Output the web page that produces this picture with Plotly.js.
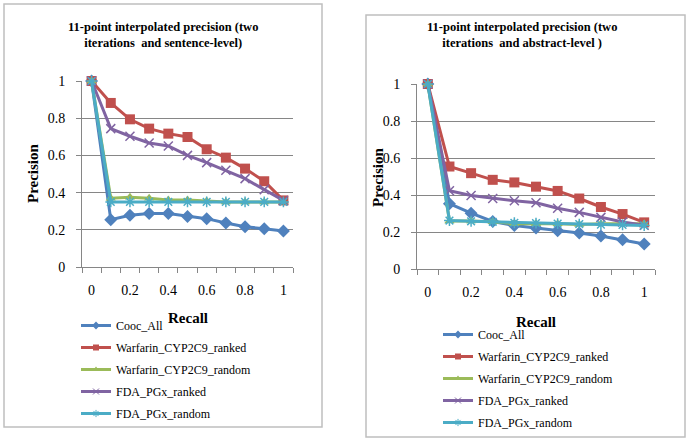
<!DOCTYPE html>
<html>
<head>
<meta charset="utf-8">
<script src="https://cdn.plot.ly/plotly-3.0.1.min.js"></script>
<style>html,body{margin:0;padding:0;background:#fff;}#chart{width:689px;height:442px;}</style>
</head>
<body>
<div id="chart"></div>
<script>
const recall = [0, 0.1, 0.2, 0.3, 0.4, 0.5, 0.6, 0.7, 0.8, 0.9, 1];
const seriesNames = ["Cooc_All", "Warfarin_CYP2C9_ranked", "Warfarin_CYP2C9_random", "FDA_PGx_ranked", "FDA_PGx_random"];

// Sentence-level (left chart)
const sentCooc       = [1, 0.254, 0.278, 0.287, 0.288, 0.272, 0.260, 0.237, 0.216, 0.206, 0.194];
const sentWarfRanked = [1, 0.882, 0.794, 0.744, 0.717, 0.699, 0.633, 0.588, 0.529, 0.461, 0.358];
const sentWarfRandom = [1, 0.370, 0.375, 0.370, 0.360, 0.360, 0.355, 0.350, 0.350, 0.350, 0.350];
const sentFdaRanked  = [1, 0.744, 0.703, 0.667, 0.651, 0.600, 0.561, 0.520, 0.475, 0.416, 0.358];
const sentFdaRandom  = [1, 0.350, 0.350, 0.350, 0.350, 0.350, 0.350, 0.350, 0.350, 0.350, 0.350];

// Abstract-level (right chart)
const absCooc        = [1, 0.353, 0.302, 0.257, 0.235, 0.222, 0.207, 0.195, 0.178, 0.158, 0.135];
const absWarfRanked  = [1, 0.554, 0.518, 0.482, 0.468, 0.445, 0.422, 0.381, 0.335, 0.297, 0.252];
const absWarfRandom  = [1, 0.260, 0.260, 0.255, 0.245, 0.245, 0.245, 0.240, 0.245, 0.245, 0.245];
const absFdaRanked   = [1, 0.423, 0.397, 0.381, 0.369, 0.358, 0.328, 0.306, 0.279, 0.254, 0.236];
const absFdaRandom   = [1, 0.262, 0.258, 0.255, 0.250, 0.248, 0.245, 0.243, 0.240, 0.238, 0.235];

const xTickVals = [0, 0.2, 0.4, 0.6, 0.8, 1];
const xTickText = ["0", "0.2", "0.4", "0.6", "0.8", "1"];
const xTickMarks = [-0.05, 0.05, 0.15, 0.25, 0.35, 0.45, 0.55, 0.65, 0.75, 0.85, 0.95, 1.05];
const yTickVals = [0, 0.2, 0.4, 0.6, 0.8, 1];
const yTickText = ["0", "0.2", "0.4", "0.6", "0.8", "1"];

const colors = ["#4F81BD", "#C0504D", "#9BBB59", "#8064A2", "#4BACC6"];
const symbols = ["diamond", "square", "triangle-up", "x-thin-open", "asterisk-open"];
const sizes = [10, 10, 9, 9, 9];
const legSizes = [6, 6, 6, 6, 6];

const W = 689, H = 442;
const px = v => v / W;
const py = v => 1 - v / H;
const SERIF = 'Liberation Serif, Times New Roman, serif';

function mk(yvals, i, xa, ya) {
  return {
    x: recall, y: yvals, type: 'scatter', mode: 'lines+markers',
    name: seriesNames[i], xaxis: xa, yaxis: ya, showlegend: false,
    cliponaxis: false,
    line: {color: colors[i], width: 3},
    marker: {symbol: symbols[i], size: sizes[i], color: colors[i], line: {color: colors[i], width: (i >= 3 ? 1.5 : 0)}}
  };
}
// Legend-only entries (no data points) carrying the small legend markers
function legItem(i, xa, ya, leg, grp) {
  return {
    x: [null], y: [null], type: 'scatter', mode: 'lines+markers',
    name: seriesNames[i], xaxis: xa, yaxis: ya, legend: leg, legendgroup: grp + i, showlegend: true,
    line: {color: colors[i], width: 3},
    marker: {symbol: symbols[i], size: legSizes[i], color: colors[i], line: {color: colors[i], width: (i >= 3 ? 1 : 0)}}
  };
}
const sentSets = [sentCooc, sentWarfRanked, sentWarfRandom, sentFdaRanked, sentFdaRandom];
const absSets = [absCooc, absWarfRanked, absWarfRandom, absFdaRanked, absFdaRandom];
const traces = [];
sentSets.forEach((s, i) => traces.push(mk(s, i, 'x', 'y')));
absSets.forEach((s, i) => traces.push(mk(s, i, 'x2', 'y2')));
sentSets.forEach((s, i) => traces.push(legItem(i, 'x3', 'y', 'legend', 'a')));
absSets.forEach((s, i) => traces.push(legItem(i, 'x4', 'y2', 'legend2', 'b')));

const tickFont = {family: SERIF, size: 14, color: '#000'};
function xaxTicks(domain, anchor) {
  return {
    domain: domain, anchor: anchor, range: [-0.05, 1.05], fixedrange: true,
    tickmode: 'array', tickvals: xTickMarks, showticklabels: false,
    ticks: 'outside', ticklen: 5, tickcolor: '#868686', tickwidth: 1,
    showgrid: false, zeroline: false, showline: true, linecolor: '#868686', linewidth: 1
  };
}
function xaxLabels(over, anchor) {
  return {
    overlaying: over, anchor: anchor, range: [-0.05, 1.05], fixedrange: true,
    tickmode: 'array', tickvals: xTickVals, ticktext: xTickText, ticks: '', ticklabelstandoff: 13,
    showgrid: false, zeroline: false, showline: false, side: 'bottom', tickfont: tickFont
  };
}
function yax(domain, anchor) {
  return {
    domain: domain, anchor: anchor, range: [0, 1], fixedrange: true,
    tickmode: 'array', tickvals: yTickVals, ticktext: yTickText, ticks: 'outside', ticklen: 5,
    tickcolor: '#868686', ticklabelstandoff: 8,
    showgrid: true, gridcolor: '#868686', gridwidth: 1, zeroline: false,
    showline: true, linecolor: '#868686', linewidth: 1, tickfont: tickFont
  };
}

const legFont = {family: SERIF, size: 12, color: '#000'};
const layout = {
  width: W, height: H, margin: {l: 0, r: 0, t: 0, b: 0},
  paper_bgcolor: '#fff', plot_bgcolor: 'rgba(0,0,0,0)',
  showlegend: true,
  xaxis: xaxTicks([px(82), px(293)], 'y'),
  yaxis: yax([py(267), py(81)], 'x'),
  xaxis2: xaxTicks([px(417), px(655)], 'y2'),
  yaxis2: yax([py(269), py(84)], 'x2'),
  xaxis3: xaxLabels('x', 'y'),
  xaxis4: xaxLabels('x2', 'y2'),
  legend: {x: px(76), y: py(311), xanchor: 'left', yanchor: 'top', font: legFont,
           tracegroupgap: 3, bgcolor: 'rgba(0,0,0,0)', borderwidth: 0},
  legend2: {x: px(438), y: py(320), xanchor: 'left', yanchor: 'top', font: legFont,
            tracegroupgap: 3, bgcolor: 'rgba(0,0,0,0)', borderwidth: 0},
  shapes: [
    {type: 'rect', xref: 'paper', yref: 'paper', x0: px(4), x1: px(322), y0: py(427), y1: py(4),
     line: {color: '#BFBFBF', width: 1.5}, layer: 'below'},
    {type: 'rect', xref: 'paper', yref: 'paper', x0: px(366), x1: px(685), y0: py(437), y1: py(15),
     line: {color: '#BFBFBF', width: 1.5}, layer: 'below'}
  ],
  annotations: [
    {text: '<b>11-point interpolated precision (two<br>iterations  and sentence-level)</b>',
     xref: 'paper', yref: 'paper', x: px(163), y: py(35), xanchor: 'center', yanchor: 'middle',
     showarrow: false, font: {family: SERIF, size: 12.5, color: '#000'}},
    {text: '<b>11-point interpolated precision (two<br>iterations  and abstract-level )</b>',
     xref: 'paper', yref: 'paper', x: px(522), y: py(35), xanchor: 'center', yanchor: 'middle',
     showarrow: false, font: {family: SERIF, size: 12.5, color: '#000'}},
    {text: '<b>Precision</b>', xref: 'paper', yref: 'paper', x: px(33), y: py(173),
     xanchor: 'center', yanchor: 'middle', textangle: -90, showarrow: false,
     font: {family: SERIF, size: 15, color: '#000'}},
    {text: '<b>Precision</b>', xref: 'paper', yref: 'paper', x: px(378), y: py(177),
     xanchor: 'center', yanchor: 'middle', textangle: -90, showarrow: false,
     font: {family: SERIF, size: 15, color: '#000'}},
    {text: '<b>Recall</b>', xref: 'paper', yref: 'paper', x: px(188), y: py(318),
     xanchor: 'center', yanchor: 'middle', showarrow: false,
     font: {family: SERIF, size: 15, color: '#000'}},
    {text: '<b>Recall</b>', xref: 'paper', yref: 'paper', x: px(536), y: py(322),
     xanchor: 'center', yanchor: 'middle', showarrow: false,
     font: {family: SERIF, size: 15, color: '#000'}}
  ]
};

Plotly.newPlot('chart', traces, layout, {displayModeBar: false, staticPlot: true});
</script>
</body>
</html>
